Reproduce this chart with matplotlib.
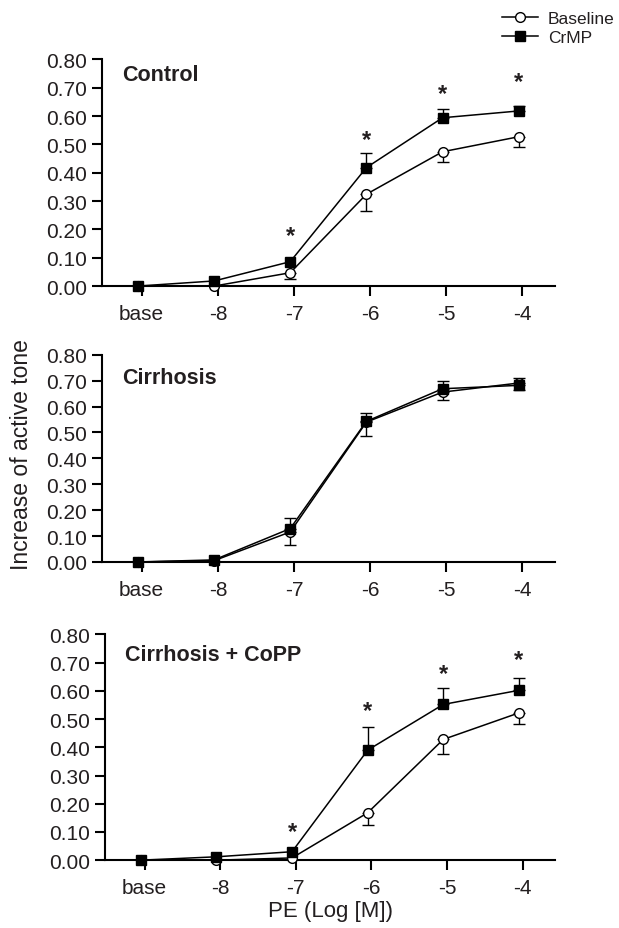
import numpy as np
import matplotlib.pyplot as plt
import matplotlib.transforms as mtransforms
from matplotlib.lines import Line2D

plt.rcParams['font.family'] = ['Liberation Sans', 'DejaVu Sans']
plt.rcParams['text.color'] = '#231f20'
plt.rcParams['xtick.labelcolor'] = '#231f20'
plt.rcParams['ytick.labelcolor'] = '#231f20'

labels = ['base', '-8', '-7', '-6', '-5', '-4']

# Control
ctrl_base = [0.0, 0.0, 0.047, 0.324, 0.474, 0.527]
ctrl_base_err = [0.0, 0.0, 0.022, 0.060, 0.035, 0.035]
ctrl_crmp = [0.0, 0.018, 0.086, 0.418, 0.594, 0.618]
ctrl_crmp_err = [0.0, 0.0, 0.0, 0.050, 0.032, 0.018]
ctrl_star_idx = [2, 3, 4, 5]
ctrl_star_y = [0.192, 0.530, 0.694, 0.735]

# Cirrhosis
cirr_base = [0.0, 0.005, 0.116, 0.540, 0.656, 0.691]
cirr_base_err = [0.0, 0.0, 0.050, 0.054, 0.030, 0.028]
cirr_crmp = [0.0, 0.008, 0.129, 0.543, 0.669, 0.682]
cirr_crmp_err = [0.0, 0.0, 0.040, 0.033, 0.028, 0.030]
cirr_star_idx = []
cirr_star_y = []

# Cirrhosis + CoPP
copp_base = [0.0, 0.0, 0.008, 0.168, 0.428, 0.522]
copp_base_err = [0.0, 0.0, 0.0, 0.045, 0.053, 0.041]
copp_crmp = [0.0, 0.012, 0.030, 0.390, 0.552, 0.602]
copp_crmp_err = [0.0, 0.0, 0.0, 0.083, 0.059, 0.042]
copp_star_idx = [2, 3, 4, 5]
copp_star_y = [0.115, 0.546, 0.674, 0.727]

panels = [
    ('Control', ctrl_base, ctrl_base_err, ctrl_crmp, ctrl_crmp_err, ctrl_star_idx, ctrl_star_y,
     [0.165, 0.691, 0.732, 0.244], 0.934),
    ('Cirrhosis', cirr_base, cirr_base_err, cirr_crmp, cirr_crmp_err, cirr_star_idx, cirr_star_y,
     [0.165, 0.394, 0.732, 0.223], 0.892),
    ('Cirrhosis + CoPP', copp_base, copp_base_err, copp_crmp, copp_crmp_err, copp_star_idx, copp_star_y,
     [0.170, 0.073, 0.727, 0.243], 0.909),
]

fig = plt.figure(figsize=(6.19, 9.29), dpi=100)
x = np.arange(len(labels))
xs = x - 0.05

for title, b, be, c, ce, sidx, sy, rect, ty in panels:
    ax = fig.add_axes(rect)
    b = np.array(b); be = np.array(be); c = np.array(c); ce = np.array(ce)
    m = be > 0
    ax.errorbar(xs[m], b[m], yerr=[be[m], np.zeros(m.sum())], fmt='none',
                ecolor='black', elinewidth=1.0, capsize=4, capthick=1.0, zorder=2, clip_on=False)
    m = ce > 0
    ax.errorbar(xs[m], c[m], yerr=[np.zeros(m.sum()), ce[m]], fmt='none',
                ecolor='black', elinewidth=1.0, capsize=4, capthick=1.0, zorder=2, clip_on=False)
    ax.plot(xs, b, '-o', color='black', mfc='white', mec='black', ms=7, mew=1.0, lw=1.1,
            zorder=3, clip_on=False)
    ax.plot(xs, c, '-s', color='black', mfc='black', mec='black', ms=6.5, lw=1.1,
            zorder=4, clip_on=False)
    # star glyph sits high in its box, nudge down a few pixels
    star_tr = ax.transData + mtransforms.ScaledTranslation(0, -4 / 100, fig.dpi_scale_trans)
    for i, yv in zip(sidx, sy):
        ax.text(xs[i], yv, '*', ha='center', va='center', fontsize=17, fontweight='bold',
                transform=star_tr)
    ax.text(0.044, ty, title, transform=ax.transAxes, ha='left', va='center',
            fontsize=15.5, fontweight='bold')
    ax.set_xlim(-0.52, 5.43)
    ax.set_ylim(0, 0.8)
    ax.set_xticks(x)
    ax.set_xticklabels(labels)
    ax.set_yticks(np.arange(0, 0.81, 0.1))
    ax.set_yticklabels(['%.2f' % v for v in np.arange(0, 0.81, 0.1)])
    for s in ['top', 'right']:
        ax.spines[s].set_visible(False)
    for s in ['left', 'bottom']:
        ax.spines[s].set_linewidth(1.5)
    ax.tick_params(axis='both', direction='out', length=7, width=1.5, labelsize=15)
    ax.tick_params(axis='x', pad=6)
    ax.tick_params(axis='y', pad=4)

fig.text(22 / 619, 1 - 455 / 929, 'Increase of active tone', rotation=90,
         ha='center', va='center', fontsize=16.5)
fig.text(331 / 619, 1 - 912 / 929, 'PE (Log [M])', ha='center', va='center', fontsize=16)

handles = [
    Line2D([], [], color='black', marker='o', mfc='white', mec='black', ms=7, lw=1.1),
    Line2D([], [], color='black', marker='s', mfc='black', ms=6.5, lw=1.1),
]
fig.legend(handles, ['Baseline', 'CrMP'], loc='upper right', bbox_to_anchor=(1.01, 0.998),
           frameon=False, fontsize=12.5, handlelength=2.1, handletextpad=0.55,
           labelspacing=0.2, borderaxespad=0.2)

plt.savefig('out.png', dpi=100)
